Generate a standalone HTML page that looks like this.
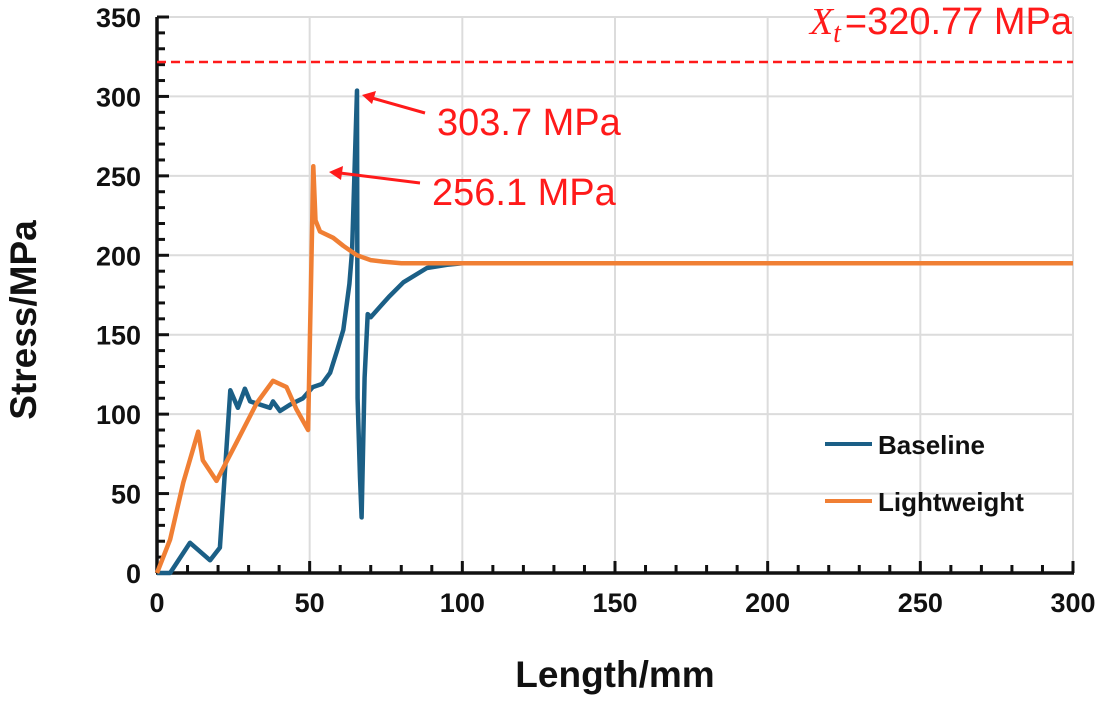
<!DOCTYPE html>
<html><head><meta charset="utf-8"><style>
body{margin:0;background:#fff;}
svg text{font-family:"Liberation Sans",sans-serif;}
</style></head><body>
<svg id="chart" width="1102" height="699" viewBox="0 0 1102 699" xmlns="http://www.w3.org/2000/svg">
<g id="grid"></g>
<g id="axes"></g>
<g id="series"></g>
<line x1="157" y1="62" x2="1073" y2="62" stroke="#ff1a1a" stroke-width="2.5" stroke-dasharray="9,5"/>
<text x="1072" y="34" text-anchor="end" font-size="38" fill="#ff1a1a"><tspan font-family="Liberation Serif" font-style="italic">X</tspan><tspan font-family="Liberation Serif" font-style="italic" font-size="28" dy="8">t</tspan><tspan dy="-8" dx="4">=320.77 MPa</tspan></text>
<line x1="425" y1="113" x2="372" y2="98" stroke="#ff1a1a" stroke-width="3"/>
<polygon points="362,95 376,91 372,104" fill="#ff1a1a"/>
<text x="437" y="135" font-size="38" fill="#ff1a1a">303.7 MPa</text>
<line x1="420" y1="183" x2="340" y2="173" stroke="#ff1a1a" stroke-width="3"/>
<polygon points="329,172 343,166 341,180" fill="#ff1a1a"/>
<text x="432" y="205" font-size="38" fill="#ff1a1a">256.1 MPa</text>
<line x1="825" y1="444" x2="872" y2="444" stroke="#1b5f86" stroke-width="4"/>
<text x="878" y="454" font-size="26" font-weight="bold" fill="#111">Baseline</text>
<line x1="825" y1="501" x2="872" y2="501" stroke="#f07f34" stroke-width="4"/>
<text x="878" y="511" font-size="26" font-weight="bold" fill="#111">Lightweight</text>
<text x="615" y="687" text-anchor="middle" font-size="37" font-weight="bold" fill="#111">Length/mm</text>
<text x="0" y="0" transform="translate(36,320) rotate(-90)" text-anchor="middle" font-size="37" font-weight="bold" fill="#111">Stress/MPa</text>
</svg>
<script>
const xTicks=[0,50,100,150,200,250,300];
const yTicks=[0,50,100,150,200,250,300,350];
const baselineX=[0,4.3,10.8,17.4,20.6,24,26.5,28.8,30.5,37,38,40.3,43.6,47.8,51,54,56.7,59,61,63,63.9,65.5,65.7,66.5,67,68,69,70,76,80.7,88.4,95,100,150,200,250,300];
const baselineY=[0,0,19,8,16,115,104,116,108,104,108,102,106,110,117,119,126,140,153,182,203,303.7,110,60,35,123,163,161,174,183,192,194,195,195,195,195,195];
const lightX=[0,4.3,8.6,13.5,15,19.5,26,32.7,38,42.4,45.7,49.5,51.2,51.9,53.4,57.7,61,65.5,70,74,80,150,300];
const lightY=[0,21,57,89,71,58,82,107,121,117,103,90,256.1,222,215,211,206,200,197,196,195,195,195];
const X0=157,X1=1073,Y0=573,Y1=17;
const sx=v=>X0+(X1-X0)*v/300;
const sy=v=>Y0-(Y0-Y1)*v/350;
const NS="http://www.w3.org/2000/svg";
function mk(tag,attrs,parent){const e=document.createElementNS(NS,tag);for(const k in attrs)e.setAttribute(k,attrs[k]);parent.appendChild(e);return e;}
const grid=document.getElementById('grid'),axes=document.getElementById('axes'),series=document.getElementById('series');
yTicks.forEach(t=>{
 if(t>0){const g=mk('line',{x1:X0,x2:X1,y1:sy(t),y2:sy(t),stroke:'#dcdcdc','stroke-width':2},grid);
 
 }
 const l=mk('text',{x:141,y:sy(t)+10,'text-anchor':'end','font-size':27,'font-weight':'bold',fill:'#111'},axes);
 l.textContent=t;
 
 
});
xTicks.forEach(t=>{
 if(t>0){const g=mk('line',{x1:sx(t),x2:sx(t),y1:Y1,y2:Y0,stroke:'#dcdcdc','stroke-width':2},grid);
 
 }
 const l=mk('text',{x:sx(t),y:612,'text-anchor':'middle','font-size':27,'font-weight':'bold',fill:'#111'},axes);
 l.textContent=t;
 
 
});
for(let v=0;v<=300;v+=10){const m=v%50===0;const t=mk('line',{x1:sx(v),x2:sx(v),y1:Y0,y2:Y0-(m?12:8),stroke:'#111','stroke-width':3},axes);
 
 }
for(let v=0;v<=350;v+=10){const m=v%50===0;const t=mk('line',{x1:X0,x2:X0+(m?12:8),y1:sy(v),y2:sy(v),stroke:'#111','stroke-width':3},axes);
 
 }
const xa=mk('line',{x1:X0-1,x2:X1+1,y1:Y0,y2:Y0,stroke:'#111','stroke-width':3.5},axes);


const ya=mk('line',{x1:X0,x2:X0,y1:Y1,y2:Y0,stroke:'#111','stroke-width':3.5},axes);


function path(xs,ys){return xs.map((x,i)=>(i?'L':'M')+sx(x).toFixed(1)+','+sy(ys[i]).toFixed(1)).join('');}
const pb=mk('path',{d:path(baselineX,baselineY),fill:'none',stroke:'#1b5f86','stroke-width':4.5,'stroke-linejoin':'round'},series);


const pl=mk('path',{d:path(lightX,lightY),fill:'none',stroke:'#f07f34','stroke-width':4.5,'stroke-linejoin':'round'},series);


</script>
</body></html>
